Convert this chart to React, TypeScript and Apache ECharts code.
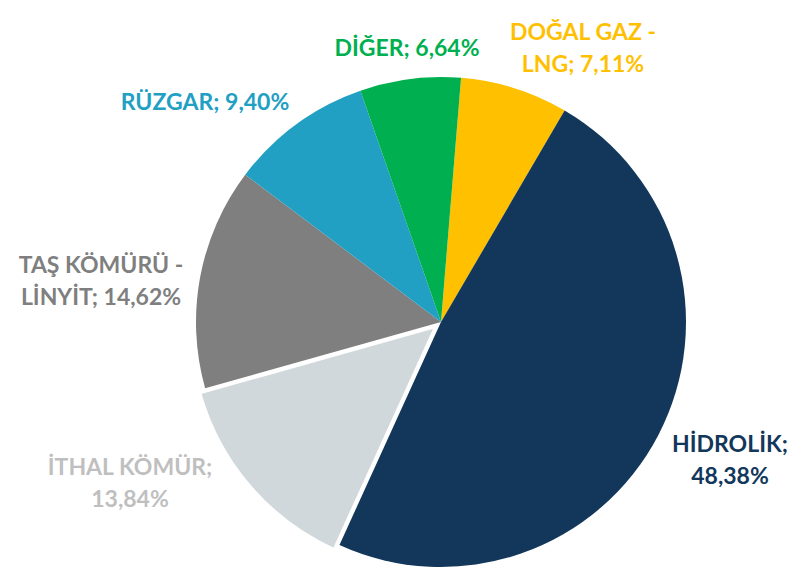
import React, { useEffect, useRef } from "react";
import * as echarts from "echarts";

const categories = ["DOĞAL GAZ -\nLNG", "HİDROLİK", "İTHAL KÖMÜR", "TAŞ KÖMÜRÜ -\nLİNYİT", "RÜZGAR", "DİĞER"];
const shares = [7.11, 48.38, 13.84, 14.62, 9.4, 6.64];
const valueOnNewLine = [false, true, true, false, false, false];
const explodedIndex = 2;

const sliceColors = ["#FFC000", "#12375A", "#D0D8DB", "#7F7F7F", "#21A0C3", "#00B050"];
const labelColors = ["#FFC000", "#12375A", "#BFBFBF", "#7F7F7F", "#21A0C3", "#00B050"];
const labelPos: [number, number][] = [
  [583, 47],
  [730, 459],
  [130, 482],
  [101, 280],
  [205, 101],
  [407, 47],
];

const fmt = (v: number) => v.toFixed(2).replace(".", ",") + "%";

const CENTER: [number, number] = [441, 322];
const START = 85.3;
const EXPLODE = 7;

export default function App() {
  const ref = useRef<HTMLDivElement>(null);
  useEffect(() => {
    if (!ref.current) return;
    const chart = echarts.init(ref.current, null, { renderer: "svg" });
    const total = shares.reduce((a, b) => a + b, 0);
    const before = shares.slice(0, explodedIndex).reduce((a, b) => a + b, 0);
    const mid = ((START - ((before + shares[explodedIndex] / 2) / total) * 360) * Math.PI) / 180;
    const explodedCenter = [CENTER[0] + Math.cos(mid) * EXPLODE, CENTER[1] - Math.sin(mid) * EXPLODE];
    chart.setOption({
      animation: false,
      backgroundColor: "#ffffff",
      series: [
        {
          type: "pie",
          center: CENTER,
          radius: 245,
          startAngle: START,
          clockwise: true,
          data: categories.map((name, i) => ({
            name,
            value: shares[i],
            itemStyle: {
              color: i === explodedIndex ? "rgba(0,0,0,0)" : sliceColors[i],
              borderWidth: 0,
            },
            label: { color: labelColors[i] },
          })),
          label: {
            show: true,
            position: "outside",
            alignTo: "none",
            overflow: "none",
            fontFamily: "Lato",
            fontWeight: "bold",
            fontSize: 23,
            lineHeight: 32,
            align: "center",
            verticalAlign: "middle",
            formatter: (p: any) =>
              p.name + (valueOnNewLine[p.dataIndex] ? ";\n" : "; ") + fmt(p.value),
          },
          labelLine: { show: false },
          labelLayout: (p: any) => ({
            x: labelPos[p.dataIndex][0],
            y: labelPos[p.dataIndex][1],
            align: "center",
            verticalAlign: "middle",
            width: 300,
          }),
          emphasis: { disabled: true },
        },
        {
          type: "pie",
          center: explodedCenter,
          radius: 245,
          startAngle: START,
          clockwise: true,
          silent: true,
          z: 3,
          data: categories.map((name, i) => ({
            name,
            value: shares[i],
            itemStyle: {
              color: i === explodedIndex ? sliceColors[i] : "rgba(0,0,0,0)",
              borderColor: i === explodedIndex ? "#ffffff" : "rgba(0,0,0,0)",
              borderWidth: i === explodedIndex ? 3 : 0,
            },
          })),
          label: { show: false },
          labelLine: { show: false },
          emphasis: { disabled: true },
        },
      ],
    });
    return () => chart.dispose();
  }, []);
  return (
    <div
      ref={ref}
      style={{ position: "absolute", left: 0, top: 0, width: 807, height: 570 }}
    />
  );
}
